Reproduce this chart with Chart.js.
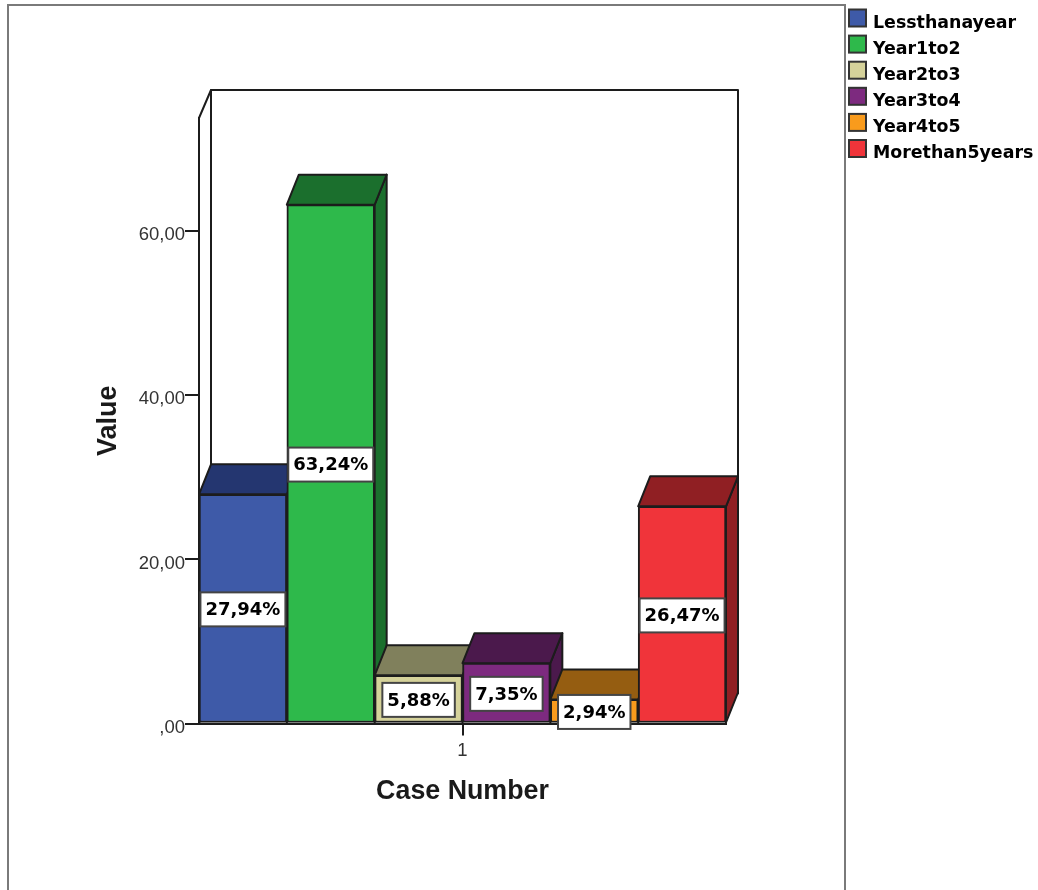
<!DOCTYPE html>
<html>
<head>
<meta charset="utf-8">
<title>Case Number chart</title>
<script src="https://cdn.jsdelivr.net/npm/chart.js@4"></script>
<style>
  html, body { margin: 0; padding: 0; background: #fff; overflow: hidden; }
  #wrap { width: 1038px; height: 890px; position: relative; }
  canvas { filter: blur(0.4px); }
</style>
</head>
<body>
<div id="wrap"><canvas id="mycanvas1" width="1038" height="890"></canvas></div>
<script>
var categories = ['1'];
var seriesNames = ['Lessthanayear', 'Year1to2', 'Year2to3', 'Year3to4', 'Year4to5', 'Morethan5years'];
var seriesValues = [27.94, 63.24, 5.88, 7.35, 2.94, 26.47];
var seriesLabels = ['27,94%', '63,24%', '5,88%', '7,35%', '2,94%', '26,47%'];
var yTicks = { 0: ',00', 20: '20,00', 40: '40,00', 60: '60,00' };

var frontColors = ['#3e5aa8', '#2eb94b', '#d5d29a', '#7d2a7f', '#f99b1c', '#f0343a'];
var darkColors = ['#243670', '#1b6f2d', '#80805c', '#4b194c', '#955d11', '#901f23'];
var lineColor = '#1c1c1c';
var depthX = 12, depthY = 30, wallDepthY = 28;

function poly(ctx, pts, fill) {
  ctx.beginPath();
  ctx.moveTo(pts[0][0], pts[0][1]);
  for (var i = 1; i < pts.length; i++) ctx.lineTo(pts[i][0], pts[i][1]);
  ctx.closePath();
  if (fill) { ctx.fillStyle = fill; ctx.fill(); }
  ctx.lineWidth = 2;
  ctx.strokeStyle = lineColor;
  ctx.lineJoin = 'round';
  ctx.stroke();
}

var boxPlugin = {
  id: 'box',
  // frame, empty box, then the bars left to right so each one overlaps the previous
  beforeDatasetsDraw: function(chart) {
    var ctx = chart.ctx, a = chart.chartArea;
    var wallTop = a.top - wallDepthY, wallBottom = a.bottom - depthY;
    ctx.save();
    ctx.strokeStyle = '#7a7a7a';
    ctx.lineWidth = 2;
    ctx.strokeRect(8, 5, 837, 900);
    poly(ctx, [[a.left, a.top], [a.left + depthX, wallTop], [a.left + depthX, wallBottom], [a.left, a.bottom]], '#fff');
    poly(ctx, [[a.left + depthX, wallTop], [a.right + depthX, wallTop], [a.right + depthX, wallBottom], [a.left + depthX, wallBottom]], '#fff');
    seriesNames.forEach(function(name, i) {
      var meta = chart.getDatasetMeta(i);
      var bar = meta.data[0];
      var l = bar.x - bar.width / 2, r = bar.x + bar.width / 2, t = bar.y, b = bar.base;
      poly(ctx, [[r, t], [r + depthX, t - depthY], [r + depthX, b - depthY], [r, b]], darkColors[i]);
      poly(ctx, [[l, t], [l + depthX, t - depthY], [r + depthX, t - depthY], [r, t]], darkColors[i]);
      meta.controller.draw();
    });
    ctx.restore();
    return false;
  },
  afterDraw: function(chart) {
    var ctx = chart.ctx;
    ctx.save();
    // value boxes
    ctx.font = 'bold 18px "DejaVu Sans"';
    ctx.textAlign = 'center';
    ctx.textBaseline = 'middle';
    seriesLabels.forEach(function(txt, i) {
      var bar = chart.getDatasetMeta(i).data[0];
      var cy = (bar.y + bar.base) / 2 + 1;
      var w = ctx.measureText(txt).width + 10, h = 34;
      ctx.fillStyle = '#fff';
      ctx.fillRect(bar.x - w / 2, cy - h / 2, w, h);
      ctx.strokeStyle = '#444';
      ctx.lineWidth = 2;
      ctx.strokeRect(bar.x - w / 2, cy - h / 2, w, h);
      ctx.fillStyle = '#000';
      ctx.fillText(txt, bar.x, cy + 1);
    });
    // legend
    ctx.font = 'bold 17.4px "DejaVu Sans"';
    ctx.textAlign = 'left';
    seriesNames.forEach(function(name, i) {
      var y = 9.5 + i * 26.1;
      ctx.fillStyle = frontColors[i];
      ctx.fillRect(849, y, 17, 17);
      ctx.strokeStyle = '#333';
      ctx.lineWidth = 2;
      ctx.strokeRect(849, y, 17, 17);
      ctx.fillStyle = '#000';
      ctx.fillText(name, 873, y + 13.5);
    });
    ctx.restore();
  }
};

var datasets = seriesNames.map(function(name, i) {
  return {
    label: name,
    data: [seriesValues[i]],
    backgroundColor: frontColors[i],
    borderColor: lineColor,
    borderWidth: 2,
    borderSkipped: false,
    barPercentage: 1,
    categoryPercentage: 1
  };
});

new Chart(document.getElementById('mycanvas1'), {
  type: 'bar',
  data: { labels: categories, datasets: datasets },
  plugins: [boxPlugin],
  options: {
    responsive: false,
    animation: false,
    layout: { padding: { left: 92, right: 312, top: 118, bottom: 82 } },
    plugins: { legend: { display: false }, tooltip: { enabled: false } },
    scales: {
      x: {
        offset: true,
        afterFit: function(s) { s.height = 84.5; },
        grid: { offset: false, drawOnChartArea: false, tickLength: 12, color: lineColor, lineWidth: 2 },
        border: { color: lineColor, width: 2 },
        ticks: { color: '#333', font: { family: 'Liberation Sans', size: 18.5 }, padding: 4, maxRotation: 0 },
        title: { display: true, text: 'Case Number', color: '#1a1a1a', font: { family: 'Liberation Sans', size: 26.8, weight: 'bold' }, padding: 0 }
      },
      y: {
        min: 0,
        max: 73.8,
        afterFit: function(s) { s.width = 107; },
        grid: { drawOnChartArea: false, tickLength: 14, color: lineColor, lineWidth: 2 },
        border: { color: lineColor, width: 2 },
        ticks: {
          stepSize: 20,
          includeBounds: false,
          color: '#333',
          padding: 0,
          labelOffset: 4,
          font: { family: 'Liberation Sans', size: 18.5 },
          callback: function(v) { return yTicks[v]; }
        },
        title: { display: true, text: 'Value', color: '#1a1a1a', font: { family: 'Liberation Sans', size: 27, weight: 'bold' }, padding: 0 }
      }
    }
  }
});
</script>
</body>
</html>
